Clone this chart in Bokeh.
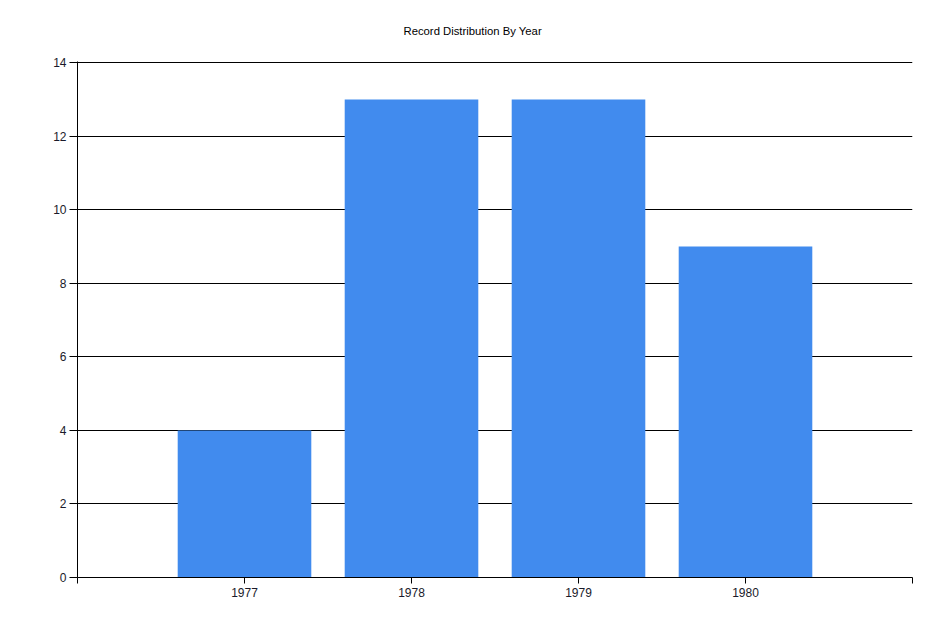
from bokeh.plotting import figure
from bokeh.models import FixedTicker, Range1d, ColumnDataSource
from bokeh.embed import file_html
from bokeh.resources import INLINE

years = ["1977", "1978", "1979", "1980"]
counts = [4, 13, 13, 9]
positions = [1, 2, 3, 4]
y_ticks = [0, 2, 4, 6, 8, 10, 12, 14]

src = ColumnDataSource(dict(x=positions, top=counts))

p = figure(width=929, height=614, output_backend="svg", toolbar_location=None,
           x_range=Range1d(0, 5), y_range=Range1d(0, 14.03),
           title="Record Distribution By Year",
           min_border_left=77, min_border_right=17, min_border_top=61, min_border_bottom=37)

p.vbar(x="x", top="top", width=0.8, bottom=0, source=src, color="#418BEE", line_color=None)

p.title.align = "left"
p.title.vertical_align = "top"
p.title.offset = 326
p.title.standoff = 46
p.title.text_font = "Liberation Sans"
p.title.text_font_size = "11.3px"
p.title.text_font_style = "normal"
p.title.text_color = "#000000"

p.outline_line_color = None
p.xgrid.grid_line_color = None
p.ygrid.grid_line_color = "#000000"
p.ygrid.grid_line_alpha = 1.0
p.ygrid.ticker = FixedTicker(ticks=y_ticks)

p.xaxis.ticker = FixedTicker(ticks=[0] + positions + [5])
overrides = {0: "", 5: ""}
for pos, yr in zip(positions, years):
    overrides[pos] = yr
p.xaxis.major_label_overrides = overrides
p.xaxis.major_tick_in = 0
p.xaxis.major_tick_out = 6
p.xaxis.minor_tick_line_color = None
p.xaxis.axis_line_color = "#000000"
p.xaxis.major_tick_line_color = "#000000"
p.xaxis.major_label_text_font = "Liberation Sans"
p.xaxis.major_label_text_font_size = "12px"
p.xaxis.major_label_text_color = "#1a1a2a"
p.xaxis.major_label_standoff = 4

p.yaxis.ticker = FixedTicker(ticks=y_ticks)
p.yaxis.major_tick_in = 0
p.yaxis.major_tick_out = 8
p.yaxis.minor_tick_line_color = None
p.yaxis.axis_line_color = "#000000"
p.yaxis.major_tick_line_color = "#000000"
p.yaxis.major_label_text_font = "Liberation Sans"
p.yaxis.major_label_text_font_size = "12px"
p.yaxis.major_label_text_color = "#1a1a2a"
p.yaxis.major_label_standoff = 3

open("out.html", "w").write(file_html(p, INLINE))
